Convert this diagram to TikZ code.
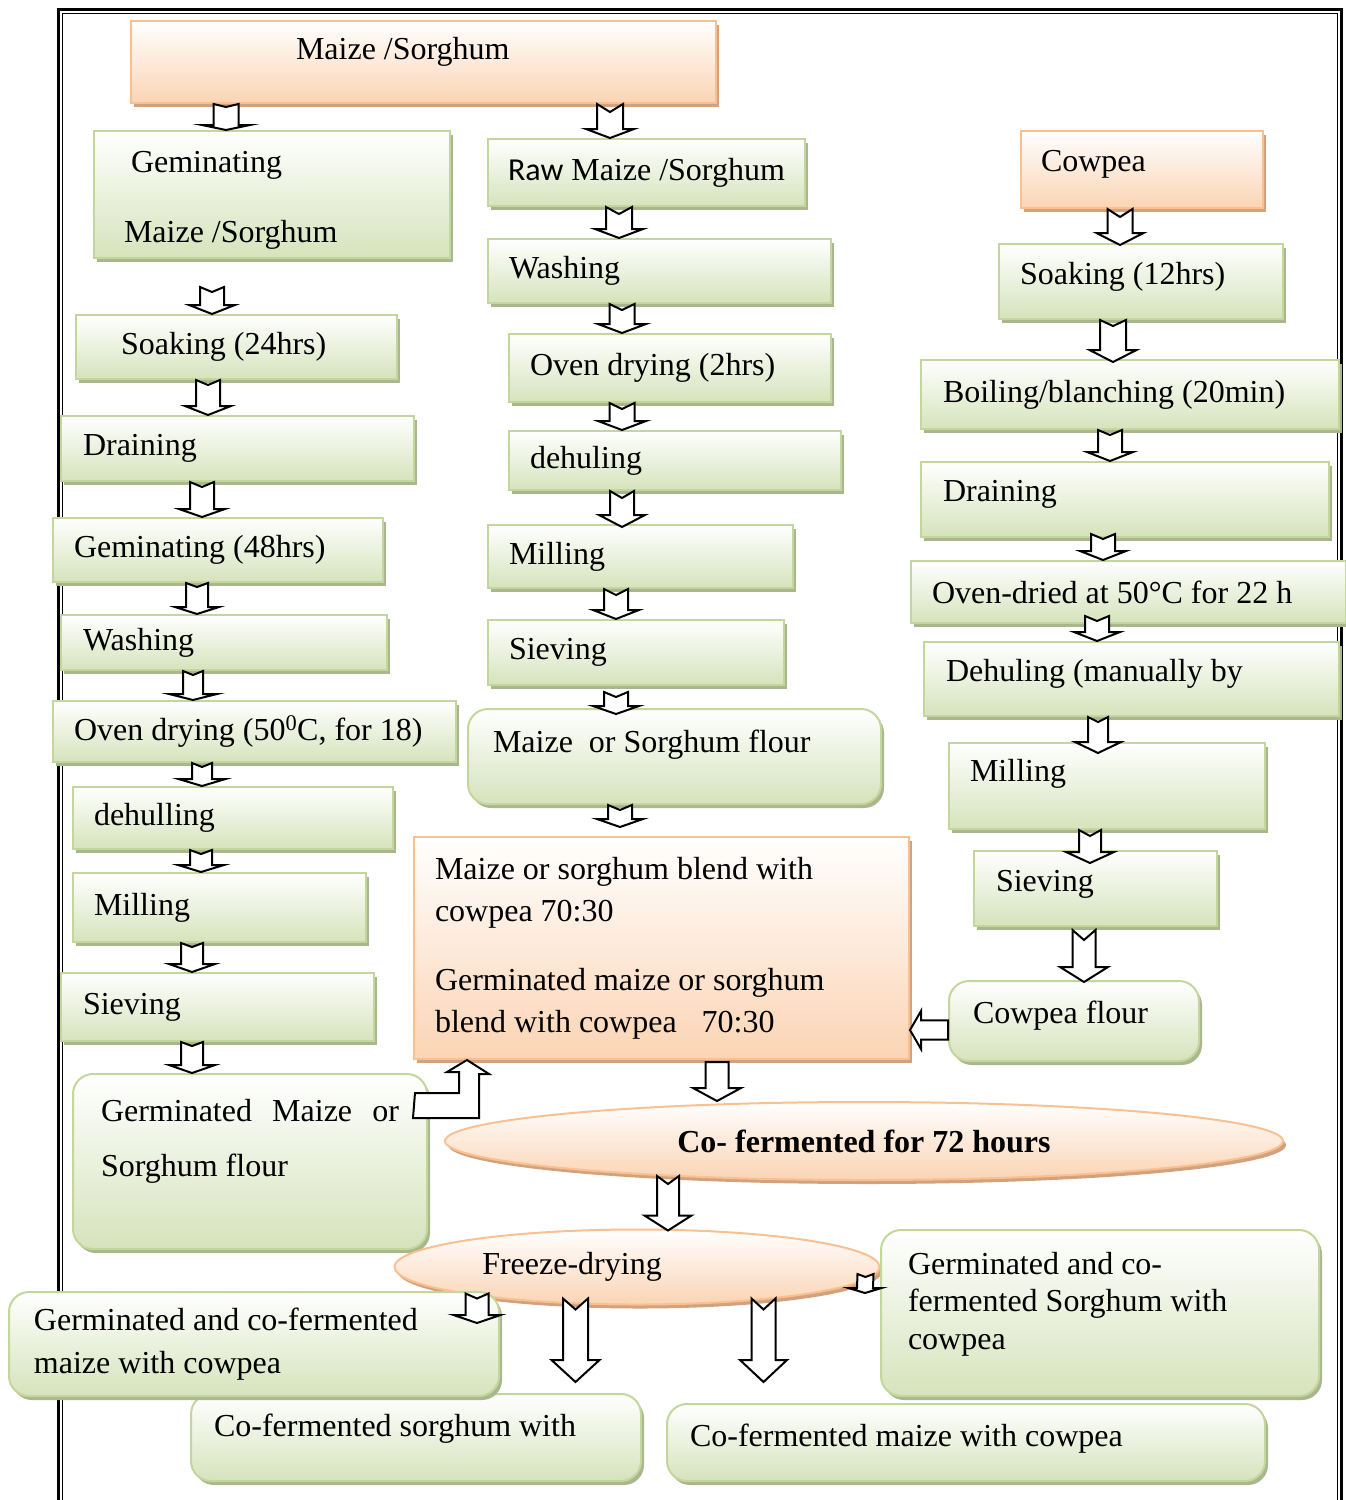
\documentclass[tikz,border=0pt]{standalone}
\usepackage{fontspec}
\setmainfont{Liberation Serif}
\newfontfamily\rawfont{Carlito}
\usepackage{tikz}
\usetikzlibrary{calc,shapes.geometric,shadows}
\definecolor{gLine}{HTML}{C3D69B}
\definecolor{gFill}{HTML}{D6E3BC}
\definecolor{gShad}{HTML}{A9B78E}
\definecolor{oLine}{HTML}{FAC090}
\definecolor{oFill}{HTML}{FBD4B4}
\definecolor{oShad}{HTML}{D2A27F}
\newcommand{\sink}[1]{\rule[-#1pt]{0pt}{0pt}}
\tikzset{
  box/.style   = {rectangle, anchor=north west, align=flush left, line width=2pt,
                  font=\fontsize{32}{38}\selectfont, inner ysep=2pt},
  gbox/.style  = {box, draw=gLine, top color=white, bottom color=gFill,
                  drop shadow={shadow xshift=3pt, shadow yshift=-4pt, fill=gShad, opacity=1}},
  obox/.style  = {box, draw=oLine, top color=white, bottom color=oFill,
                  drop shadow={shadow xshift=3pt, shadow yshift=-4pt, fill=oShad, opacity=1}},
  rbox/.style  = {gbox, rounded corners=20pt},
  oell/.style  = {ellipse, draw=oLine, line width=2pt, top color=white, bottom color=oFill,
                  drop shadow={shadow xshift=3pt, shadow yshift=-4pt, fill=oShad, opacity=1},
                  inner sep=0pt, font=\fontsize{32}{38}\selectfont},
  sz/.style n args = {4}{minimum width=#1pt, minimum height=#2pt, inner xsep=#3pt, text width=#4pt},
  arrbase/.style = {draw=black, fill=white, line width=2pt, line join=miter},
  darr/.style args = {#1/#2/#3/#4}{arrbase, to path={
      ($(\tikztostart)+(-#1,0)$) -- ($(\tikztostart)+(0,#4)$) -- ($(\tikztostart)+(#1,0)$)
      -- ($(\tikztotarget)+(#1,-#3)$) -- ($(\tikztotarget)+(#2,-#3)$) -- (\tikztotarget)
      -- ($(\tikztotarget)+(-#2,-#3)$) -- ($(\tikztotarget)+(-#1,-#3)$) -- cycle}},
  larr/.style args = {#1/#2/#3}{arrbase, to path={
      ($(\tikztostart)+(0,-#1)$) -- ($(\tikztotarget)+(#3,-#1)$) -- ($(\tikztotarget)+(#3,-#2)$)
      -- (\tikztotarget) -- ($(\tikztotarget)+(#3,#2)$) -- ($(\tikztotarget)+(#3,#1)$)
      -- ($(\tikztostart)+(0,#1)$) -- cycle}},
}

\begin{document}
\begin{tikzpicture}[x=1pt, y=-1pt]
  \useasboundingbox (0,0) rectangle (1345,1500);
  % page frame
  \draw[line width=3pt] (58,1500) -- (58,9) -- (1341,9) -- (1341,1500);
  \draw[line width=1pt] (62,1500) -- (62,13) -- (1337,13) -- (1337,1500);

  \node[obox, sz={585}{82}{165}{255}] (top) at (130,20) {Maize /Sorghum\sink{27}};

  % germinated branch
  \node[gbox, sz={356}{127}{30}{296}] (gem)    at (93,130)  {\rule{0pt}{33pt}\hspace*{7pt}Geminating\\[32pt]Maize /Sorghum};
  \node[gbox, sz={321}{64}{45}{231}]  (soak24) at (75,314)  {Soaking (24hrs)};
  \node[gbox, sz={353}{65}{22}{309}]  (drain1) at (60,415)  {Draining};
  \node[gbox, sz={330}{64}{21}{288}]  (germ48) at (52,517)  {Geminating (48hrs)};
  \node[gbox, sz={326}{55}{22}{282}]  (wash1)  at (60,614)  {Washing};
  \node[gbox, sz={403}{61}{21}{361}]  (oven1)  at (52,700)  {Oven drying (50\textsuperscript{0}C, for 18)};
  \node[gbox, sz={320}{62}{21}{278}]  (dehull) at (72,786)  {dehulling};
  \node[gbox, sz={293}{69}{21}{251}]  (mill1)  at (72,872)  {Milling};
  \node[gbox, sz={313}{68}{22}{269}]  (siev1)  at (60,972)  {Sieving};
  \node[rbox, sz={354}{175}{28}{298}] (gflour) at (72,1073) {Germinated\hfill Maize\hfill or\\[17pt]Sorghum flour\sink{47}};

  % raw branch
  \node[gbox, sz={317}{67}{20}{277}]  (raw)    at (487,138) {{\rawfont Raw} Maize /Sorghum};
  \node[gbox, sz={343}{64}{21}{301}]  (wash2)  at (487,238) {Washing};
  \node[gbox, sz={322}{68}{21}{280}]  (oven2)  at (508,333) {Oven drying (2hrs)};
  \node[gbox, sz={332}{59}{21}{290}]  (dehul2) at (508,430) {dehuling};
  \node[gbox, sz={305}{63}{21}{263}]  (mill2)  at (487,524) {Milling};
  \node[gbox, sz={296}{65}{21}{254}]  (siev2)  at (487,619) {Sieving};
  \node[rbox, sz={413}{95}{25}{363}]  (flour)  at (467,708) {Maize\ \ or Sorghum flour\sink{31}};

  % cowpea branch
  \node[obox, sz={242}{77}{20}{202}]  (cowpea) at (1020,130) {Cowpea\sink{17}};
  \node[gbox, sz={284}{75}{21}{242}]  (soak12) at (998,243)  {Soaking (12hrs)\sink{17}};
  \node[gbox, sz={418}{69}{22}{374}]  (boil)   at (920,359)  {Boiling/blanching (20min)};
  \node[gbox, sz={408}{75}{22}{364}]  (drain2) at (920,461)  {Draining\sink{17}};
  \node[gbox, sz={435}{62}{21}{393}]  (ovend)  at (910,560)  {Oven-dried at 50°C for 22 h};
  \node[gbox, sz={415}{74}{22}{371}]  (dehul3) at (923,641)  {Dehuling (manually by\sink{17}};
  \node[gbox, sz={316}{86}{21}{274}]  (mill3)  at (948,742)  {Milling\sink{31}};
  \node[gbox, sz={243}{75}{22}{199}]  (siev3)  at (973,850)  {Sieving\sink{15}};
  \node[rbox, sz={250}{80}{24}{202}]  (cflour) at (948,980)  {Cowpea flour\sink{17}};

  % blending and fermentation
  \node[obox, sz={495}{222}{21}{453}, font=\fontsize{32}{42}\selectfont] (blend) at (413,836)
    {Maize or sorghum blend with\\cowpea 70:30\\[27pt]Germinated maize or sorghum\\blend with cowpea\hspace{25pt}70:30};
  \node[oell, minimum width=838pt, minimum height=78pt] (cofer) at (864,1141) {\bfseries Co- fermented for 72 hours};
  \node[oell, minimum width=485pt, minimum height=75pt] (freeze) at (637,1267) {Freeze-drying\hspace*{130pt}};

  % products
  \node[rbox, sz={450}{87}{23}{404}]  (sbot) at (190,1393) {Co-fermented sorghum with\sink{25}};
  \node[rbox, sz={490}{104}{25}{440}, font=\fontsize{32}{43}\selectfont] (lbot) at (8,1291)
    {Germinated and co-fermented\\maize with cowpea};
  \node[rbox, sz={438}{166}{27}{384}, font=\fontsize{32}{37.5}\selectfont] (rbot) at (880,1229)
    {Germinated and co-\\fermented Sorghum with\\cowpea\sink{25}};
  \node[rbox, sz={598}{77}{23}{552}]  (mbot) at (666,1403) {Co-fermented maize with cowpea\sink{15}};

  % block arrows, germinated branch
  \draw[darr=12.5/24/5/3] (top.south -| 226,0) to (gem.north -| 226,0);
  \draw[darr=12/23/9/5] ($(gem.south -| 212,0)+(0,28)$) to (soak24.north -| 212,0);
  \draw[darr=12/23/9/5] (soak24.south -| 208,0) to (drain1.north -| 208,0);
  \draw[darr=12/23/8/5] (drain1.south -| 202,0) to (germ48.north -| 202,0);
  \draw[darr=11/22/7/4] (germ48.south -| 197,0) to (wash1.north -| 197,0);
  \draw[darr=10/24/6/4] (wash1.south -| 193,0) to (oven1.north -| 193,0);
  \draw[darr=10/23.5/7/4] (oven1.south -| 202,0) to (dehull.north -| 202,0);
  \draw[darr=11/23/7/4] (dehull.south -| 201,0) to (mill1.north -| 201,0);
  \draw[darr=11/23/8/4] (mill1.south -| 192,0) to (siev1.north -| 192,0);
  \draw[darr=11/23/8/4] (siev1.south -| 192,0) to (gflour.north -| 192,0);

  % block arrows, raw branch
  \draw[darr=13/24/9/8] (top.south -| 610,0) to (raw.north -| 610,0);
  \draw[darr=13/24/9/7] (raw.south -| 619,0) to (wash2.north -| 619,0);
  \draw[darr=12.5/24/9/6] (wash2.south -| 622,0) to (oven2.north -| 622,0);
  \draw[darr=12.5/24/9/6] (oven2.south -| 622,0) to (dehul2.north -| 622,0);
  \draw[darr=12/23/12/7] (dehul2.south -| 622,0) to ($(mill2.north -| 622,0)+(0,3)$);
  \draw[darr=12/23/9/6] (mill2.south -| 616,0) to (siev2.north -| 616,0);
  \draw[darr=12/23/8/5] ($(siev2.south -| 616,0)+(0,6)$) to ($(flour.north -| 616,0)+(0,6)$);
  \draw[darr=12/23/8/5] (flour.south -| 620,0) to ($(blend.north -| 620,0)+(0,-9)$);

  % block arrows, cowpea branch
  \draw[darr=12.5/23.5/12/8] (cowpea.south -| 1120,0) to ($(soak12.north -| 1120,0)+(0,2)$);
  \draw[darr=13/23.5/12/6] (soak12.south -| 1113,0) to ($(boil.north -| 1113,0)+(0,3)$);
  \draw[darr=12/23/9/5] (boil.south -| 1110,0) to (drain2.north -| 1110,0);
  \draw[darr=12/23/9/5] ($(drain2.south -| 1103,0)+(0,-4)$) to (ovend.north -| 1103,0);
  \draw[darr=12/23/9/5] ($(ovend.south -| 1097,0)+(0,-8)$) to (dehul3.north -| 1097,0);
  \draw[darr=10/23/11/5] (dehul3.south -| 1098,0) to ($(mill3.north -| 1098,0)+(0,11)$);
  \draw[darr=11/24/11/6] (mill3.south -| 1090,0) to ($(siev3.north -| 1090,0)+(0,13)$);
  \draw[darr=11.5/24/15/10] ($(siev3.south -| 1084,0)+(0,3)$) to ($(cflour.north -| 1084,0)+(0,2)$);
  \draw[larr=9.7/19/11] (cflour.west |- 0,1030) to (blend.east |- 0,1030);

  % blend, fermentation, drying
  \draw[arrbase] ($(gflour.north east)+(-13,20)$) -- ++(44,0) -- ++(0,-21) -- ++(-12,0)
    -- (blend.south -| 467,0) -- ++(22,14) -- ++(-10,0) -- ++(0,44) -- ++(-66,0) -- cycle;
  \draw[darr=11.5/24/13/0] ($(blend.south -| 717,0)+(0,2)$) to (cofer.north -| 717,0);
  \draw[darr=11/23.5/15/8] ($(cofer.south -| 668,0)+(0,-5)$) to ($(freeze.north -| 668,0)+(0,2)$);
  \draw[darr=11.5/23.5/8/5] ($(freeze.south -| 477,0)+(0,-12)$) to ($(lbot.north -| 477,0)+(0,32)$);
  \draw[darr=8/16.5/5/3] ($(freeze.east)+(-15,7)$) to ($(rbot.west)+(-15,-20)$);
  \draw[darr=12.5/24/22/11] ($(freeze.south -| 575.5,0)+(0,-7)$) to ($(sbot.north -| 575.5,0)+(0,-11)$);
  \draw[darr=12/23.5/22/11] ($(freeze.south -| 763.5,0)+(0,-7)$) to ($(mbot.north -| 763.5,0)+(0,-21)$);
\end{tikzpicture}
\end{document}
